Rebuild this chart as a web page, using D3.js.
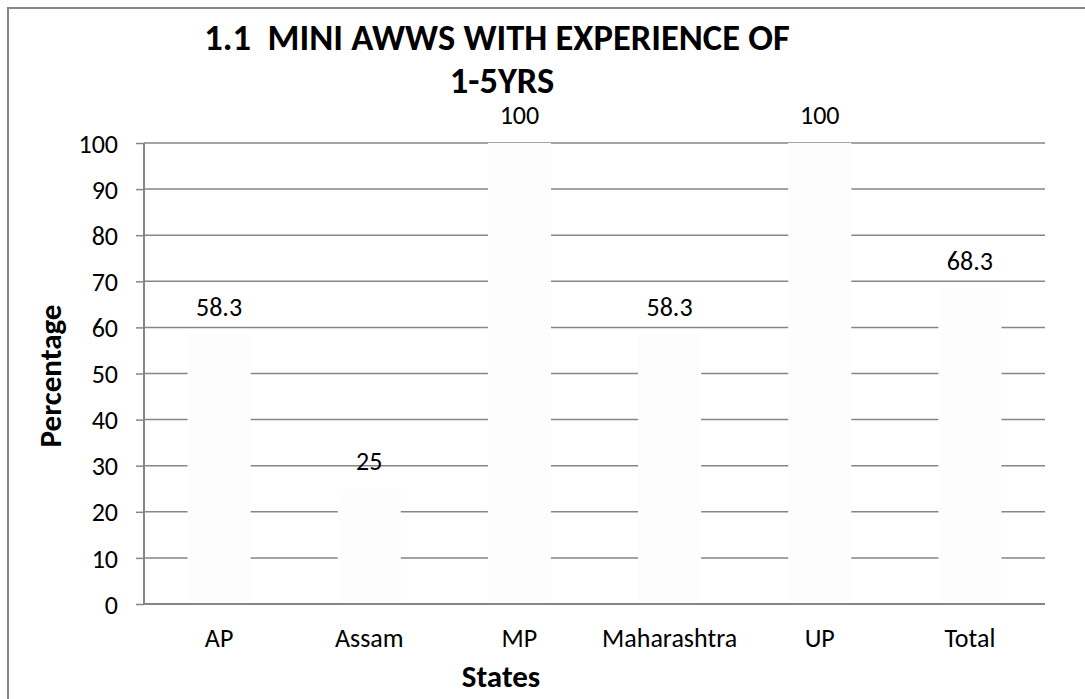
<!DOCTYPE html>
<html>
<head>
<meta charset="utf-8">
<script src="https://cdn.jsdelivr.net/npm/d3@7"></script>
<style>
  body { margin: 0; background: #fff; }
  text { font-family: Carlito, Lato, "Open Sans", sans-serif; fill: #000; }
</style>
</head>
<body>
<div id="chart"></div>
<script>
// chart data
const states = ["AP", "Assam", "MP", "Maharashtra", "UP", "Total"];
const percentages = [58.3, 25, 100, 58.3, 100, 68.3];
const valueLabels = ["58.3", "25", "100", "58.3", "100", "68.3"];
const yTicks = [0, 10, 20, 30, 40, 50, 60, 70, 80, 90, 100];
const titleLines = ["1.1  MINI AWWS WITH EXPERIENCE OF", "1-5YRS"];

(function() {
  let width = 1085;
  let height = 699;
  let left = 144, right = 1045, top = 143, bottom = 604;
  let grey = "#868686";

  let svg = d3.select("#chart").append("svg")
    .attr("width", width)
    .attr("height", height);

  // outer frame (only left and top edges show in the picture)
  svg.append("rect")
    .attr("x", 8).attr("y", 8)
    .attr("width", width + 20).attr("height", height + 20)
    .attr("fill", "none")
    .attr("stroke", grey)
    .attr("stroke-width", 2);

  let xScale = d3.scaleBand()
    .domain(states)
    .range([left, right])
    .paddingInner(0.58)
    .paddingOuter(0.29);

  let yScale = d3.scaleLinear()
    .domain([0, 100])
    .range([bottom, top]);

  // gridlines
  svg.append("g")
    .selectAll("line")
    .data(yTicks.filter(d => d > 0))
    .join("line")
    .attr("x1", left).attr("x2", right)
    .attr("y1", d => yScale(d)).attr("y2", d => yScale(d))
    .attr("stroke", grey)
    .attr("stroke-width", 1.5);

  // bars (nearly white, they hide the gridlines)
  svg.append("g")
    .selectAll("rect")
    .data(percentages)
    .join("rect")
    .attr("x", (d, i) => xScale(states[i]))
    .attr("y", d => yScale(d))
    .attr("width", xScale.bandwidth())
    .attr("height", d => bottom - yScale(d))
    .attr("fill", "#fdfdfd");

  // y axis
  let yAxis = svg.append("g")
    .attr("transform", "translate(" + left + ",0)")
    .call(d3.axisLeft(yScale).tickValues(yTicks).tickSize(8).tickPadding(18));
  yAxis.select(".domain").attr("stroke", grey).attr("stroke-width", 2)
    .attr("d", "M0," + top + "V" + bottom);
  yAxis.selectAll(".tick line").attr("stroke", grey).attr("stroke-width", 1.5);
  yAxis.selectAll(".tick text")
    .style("font-size", "26px")
    .attr("dy", "0.35em");

  // x axis
  let xAxis = svg.append("g")
    .attr("transform", "translate(0," + bottom + ")")
    .call(d3.axisBottom(xScale).tickSize(0).tickPadding(24.5));
  xAxis.select(".domain").attr("stroke", grey).attr("stroke-width", 2)
    .attr("d", "M" + left + ",0H" + right);
  xAxis.selectAll(".tick text").style("font-size", "26px");

  // value labels
  svg.append("g")
    .selectAll("text")
    .data(percentages)
    .join("text")
    .attr("x", (d, i) => xScale(states[i]) + xScale.bandwidth() / 2)
    .attr("y", d => yScale(d) - 19)
    .attr("text-anchor", "middle")
    .style("font-size", "26px")
    .text((d, i) => valueLabels[i]);

  // title
  svg.append("g")
    .selectAll("text")
    .data(titleLines)
    .join("text")
    .attr("x", (d, i) => i == 0 ? 497 : 502)
    .attr("y", (d, i) => 50 + i * 43)
    .attr("text-anchor", "middle")
    .style("font-size", "36.5px")
    .style("font-weight", "bold")
    .style("white-space", "pre")
    .text(d => d);

  // axis titles
  svg.append("text")
    .attr("transform", "translate(61,376) rotate(-90)")
    .attr("text-anchor", "middle")
    .style("font-size", "31px")
    .style("font-weight", "bold")
    .text("Percentage");

  svg.append("text")
    .attr("x", 501)
    .attr("y", 687)
    .attr("text-anchor", "middle")
    .style("font-size", "31px")
    .style("font-weight", "bold")
    .text("States");
})();
</script>
</body>
</html>
